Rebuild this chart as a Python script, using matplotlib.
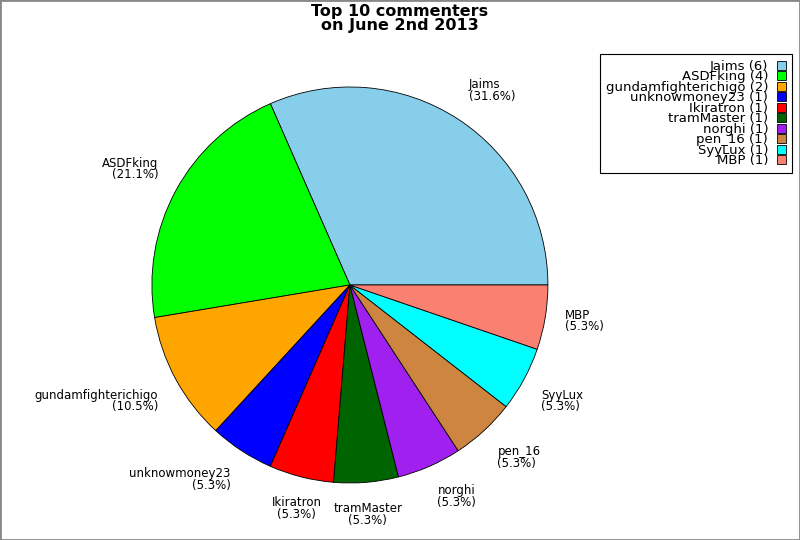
import numpy as np
import matplotlib
matplotlib.use('Agg')
import matplotlib.pyplot as plt
from matplotlib.patches import Rectangle

# Datos
nombres = ["Jaims", "ASDFking", "gundamfighterichigo", "unknowmoney23", "Ikiratron",
           "tramMaster", "norghi", "pen_16", "SyyLux", "MBP"]
comentarios = [6, 4, 2, 1, 1, 1, 1, 1, 1, 1]
colores = ["#87CEEB", "#00FF00", "#FFA500", "#0000FF", "#FF0000",
           "#006400", "#A020F0", "#CD853F", "#00FFFF", "#FA8072"]

total = sum(comentarios)
etiquetas = [f"{n}\n({100.0 * c / total:.1f}%)" for n, c in zip(nombres, comentarios)]
leyenda = [f"{n} ({c})" for n, c in zip(nombres, comentarios)]

fig = plt.figure(figsize=(8, 5.4), dpi=100)
ax = fig.add_axes([0.128, 0.0139, 0.61875, 0.9167])

wedges, textos = ax.pie(comentarios, labels=etiquetas, colors=colores, startangle=0,
                        counterclock=True, labeldistance=1.1,
                        wedgeprops=dict(edgecolor="black", linewidth=0.6),
                        textprops=dict(fontsize=8.5))
ax.set_aspect("equal")

# Alinear etiquetas segun el angulo medio de cada porcion
for w, t in zip(wedges, textos):
    ang = np.deg2rad((w.theta1 + w.theta2) / 2)
    c, s = np.cos(ang), np.sin(ang)
    if abs(c) < 0.3:
        ha = "center"
    elif c > 0:
        ha = "left"
    else:
        ha = "right"
    if s > 0.3:
        va = "bottom"
    elif s < -0.4:
        va = "top"
    else:
        va = "center"
    t.set_horizontalalignment(ha)
    t.set_verticalalignment(va)
    t.set_multialignment("center" if ha == "center" else ha)
    t.set_linespacing(0.85)

fig.suptitle("Top 10 commenters\non June 2nd 2013", fontsize=11.5, fontweight="bold",
             y=0.993, va="top", linespacing=0.9)

leg = fig.legend(wedges, leyenda, loc="upper right", bbox_to_anchor=(0.99, 0.9),
                 borderaxespad=0, fontsize=9.5, markerfirst=False, fancybox=False,
                 edgecolor="black", framealpha=1, labelspacing=-0.19,
                 handlelength=0.65, handleheight=0.65, handletextpad=0.7,
                 borderpad=0.45)
for t in leg.get_texts():
    t.set_horizontalalignment("right")
leg.get_frame().set_linewidth(0.8)

# Borde de la figura
fig.patches.append(Rectangle((0, 0), 1, 1, transform=fig.transFigure, fill=False,
                             edgecolor="#888888", linewidth=2))

fig.savefig("out.png", dpi=100)
